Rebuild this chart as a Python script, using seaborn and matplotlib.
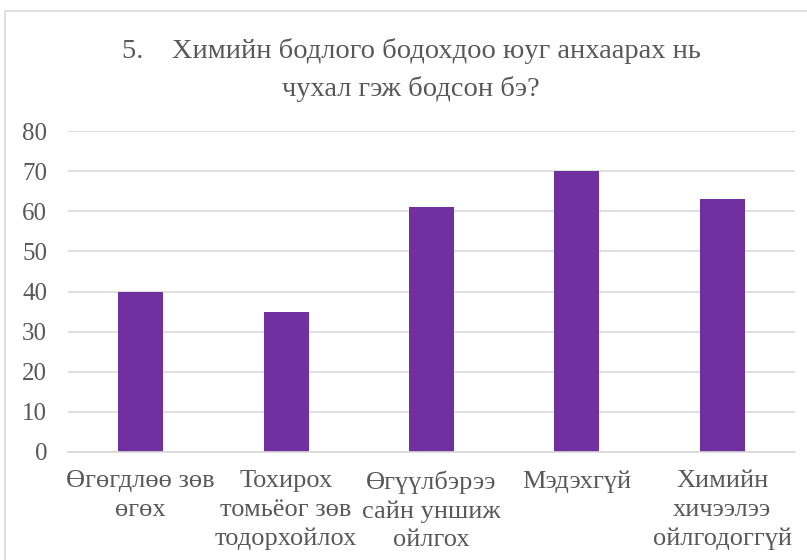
import matplotlib
matplotlib.use("Agg")
import matplotlib.pyplot as plt
import seaborn as sns
import pandas as pd
from matplotlib.patches import Rectangle

categories = ["Өгөгдлөө зөв\nөгөх", "Тохирох\nтомьёог зөв\nтодорхойлох",
              "Өгүүлбэрээ\nсайн уншиж\nойлгох", "Мэдэхгүй",
              "Химийн\nхичээлээ\nойлгодоггүй"]
values = [40, 35, 61, 70, 63]
yticks = [0, 10, 20, 30, 40, 50, 60, 70, 80]
title = "5.    Химийн бодлого бодохдоо юуг анхаарах нь\nчухал гэж бодсон бэ?"

sns.set_theme(style="white")
plt.rcParams['font.family'] = ['Liberation Serif', 'DejaVu Serif']

df = pd.DataFrame({"cat": categories, "val": values})
fig = plt.figure(figsize=(8.07, 5.6), dpi=100)
ax = fig.add_axes([68/807, 1-452/560, (795-68)/807, (452-131)/560])

sns.barplot(data=df, x="cat", y="val", color="#7030A0", saturation=1,
            width=0.31, linewidth=0, edgecolor="none", ax=ax)

ax.set_ylim(0, 80)
ax.set_yticks(yticks)
ax.yaxis.grid(True, color="#D9D9D9", linewidth=1.2)
ax.set_axisbelow(True)
for s in ["top", "right", "left"]:
    ax.spines[s].set_visible(False)
ax.spines["bottom"].set_color("#D9D9D9")
ax.spines["bottom"].set_linewidth(1.2)
ax.set_xlabel("")
ax.set_ylabel("")
ax.tick_params(axis="both", length=0, colors="#595959")
ax.tick_params(axis="x", pad=13, labelsize=19)
ax.tick_params(axis="y", pad=15, labelsize=18)
for lbl in ax.get_xticklabels():
    lbl.set_linespacing(1.38)
    lbl.set_verticalalignment("top")

fig.text(411/807, 1-70/560, title, ha="center", va="center", fontsize=20.5,
         color="#595959", linespacing=1.55)

fig.patches.append(Rectangle((5/807, -0.1), 1.2, 1 - 11/560 + 0.1,
                             transform=fig.transFigure, fill=False,
                             edgecolor="#D9D9D9", linewidth=1.2))

fig.savefig("out.png", dpi=100)
